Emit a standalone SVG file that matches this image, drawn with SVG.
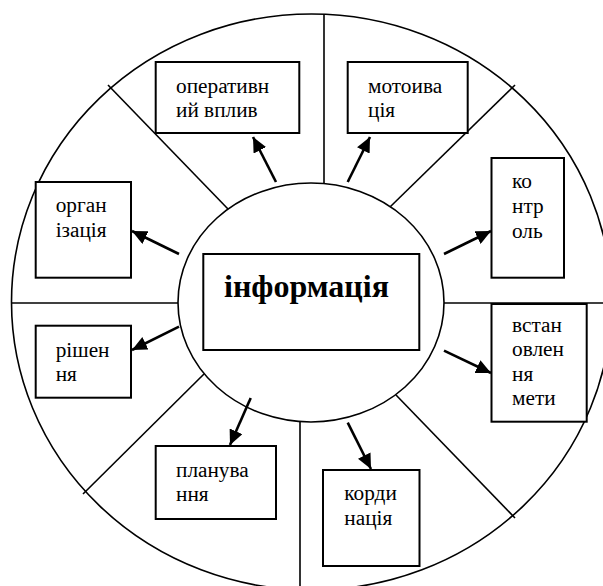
<svg xmlns="http://www.w3.org/2000/svg" width="603" height="586" viewBox="0 0 603 586">
<style>
.ln{stroke:#000;stroke-width:1.6;fill:none}
.bx{stroke:#000;stroke-width:2;fill:#fff}
.ar{stroke:#000;stroke-width:2.6;fill:none}
.t{font-family:"Liberation Serif","Times New Roman",serif;font-size:21.3px;fill:#000}
.tb{font-family:"Liberation Serif","Times New Roman",serif;font-size:32px;font-weight:bold;fill:#000}
</style>
<defs>
<marker id="ah" markerUnits="userSpaceOnUse" markerWidth="16" markerHeight="14" refX="15" refY="7" orient="auto">
<path d="M0,0 L15,7 L0,14 z" fill="#000"/>
</marker>
</defs>
<rect width="603" height="586" fill="#fff"/>
<g id="wheel">
<ellipse class="ln" cx="311.5" cy="302" rx="300" ry="288"/>
<line class="ln" x1="324" y1="14" x2="324" y2="183"/>
<line class="ln" x1="300" y1="422" x2="300" y2="590"/>
<line class="ln" x1="11.5" y1="303" x2="178" y2="303"/>
<line class="ln" x1="444" y1="303" x2="603" y2="303"/>
<line class="ln" x1="108" y1="85" x2="228" y2="209"/>
<line class="ln" x1="515" y1="85" x2="390.5" y2="206.5"/>
<line class="ln" x1="83" y1="494" x2="204" y2="374"/>
<line class="ln" x1="515" y1="518" x2="396" y2="395"/>
<ellipse class="ln" cx="311" cy="302.5" rx="133" ry="119.5" fill="#fff"/>
</g>
<g id="connectors">
<line class="ar" x1="276" y1="182" x2="253" y2="137" marker-end="url(#ah)"/>
<line class="ar" x1="347.7" y1="182" x2="370" y2="137" marker-end="url(#ah)"/>
<line class="ar" x1="444" y1="254" x2="491" y2="231" marker-end="url(#ah)"/>
<line class="ar" x1="444" y1="350.7" x2="491" y2="373" marker-end="url(#ah)"/>
<line class="ar" x1="179" y1="254" x2="132" y2="231" marker-end="url(#ah)"/>
<line class="ar" x1="179" y1="326.7" x2="132" y2="350" marker-end="url(#ah)"/>
<line class="ar" x1="250.7" y1="398" x2="230" y2="445" marker-end="url(#ah)"/>
<line class="ar" x1="347.7" y1="422.7" x2="371" y2="469" marker-end="url(#ah)"/>
</g>
<g id="info">
<rect class="bx" x="203.3" y="254" width="216" height="96"/>
<text class="tb" x="224" y="297">інформація</text>
</g>
<g id="operatyvnyi">
<rect class="bx" x="155.7" y="62" width="143.6" height="71"/>
<text class="t" x="176" y="93">оперативн</text>
<text class="t" x="176" y="117">ий вплив</text>
</g>
<g id="motyvatsiia">
<rect class="bx" x="347.7" y="62" width="120" height="71"/>
<text class="t" x="368" y="93">мотоива</text>
<text class="t" x="368" y="117">ція</text>
</g>
<g id="kontrol">
<rect class="bx" x="491.5" y="158" width="72.5" height="119.7"/>
<text class="t" x="512" y="188">ко</text>
<text class="t" x="512" y="213">нтр</text>
<text class="t" x="512" y="238">оль</text>
</g>
<g id="vstanovlennia">
<rect class="bx" x="491.5" y="304" width="95.2" height="117.7"/>
<text class="t" x="512" y="332">встан</text>
<text class="t" x="512" y="356">овлен</text>
<text class="t" x="512" y="380.5">ня</text>
<text class="t" x="512" y="405">мети</text>
</g>
<g id="orhanizatsiia">
<rect class="bx" x="35.7" y="182" width="95.3" height="95.7"/>
<text class="t" x="55.7" y="212.3">орган</text>
<text class="t" x="55.7" y="237.3">ізація</text>
</g>
<g id="rishennia">
<rect class="bx" x="35.7" y="325.7" width="95.3" height="72"/>
<text class="t" x="55.7" y="356.7">рішен</text>
<text class="t" x="55.7" y="380.7">ня</text>
</g>
<g id="planuvannia">
<rect class="bx" x="155.7" y="446" width="120.3" height="73"/>
<text class="t" x="176" y="476.7">планува</text>
<text class="t" x="176" y="500.5">ння</text>
</g>
<g id="koordynatsiia">
<rect class="bx" x="323" y="470" width="96.5" height="96"/>
<text class="t" x="344.3" y="500">корди</text>
<text class="t" x="344.3" y="525">нація</text>
</g>
</svg>
